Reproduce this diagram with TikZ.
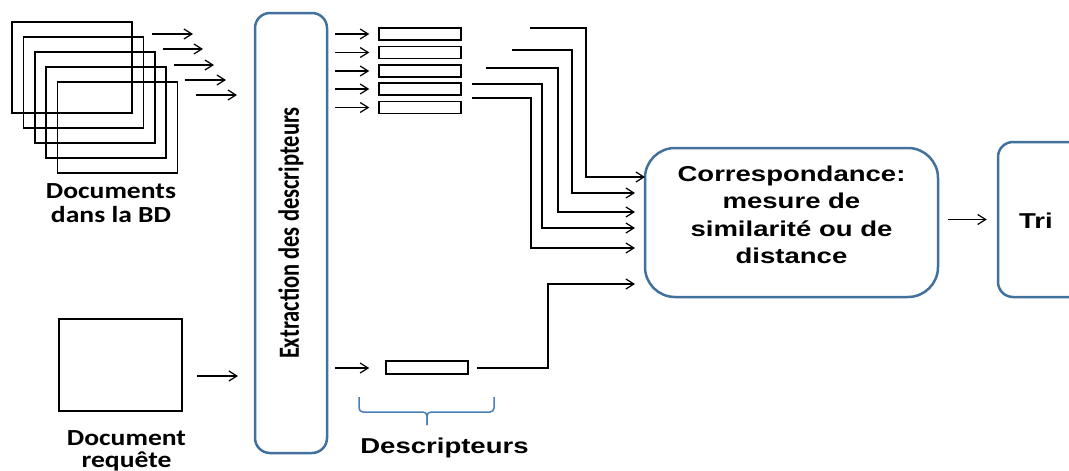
\documentclass[tikz,border=0pt]{standalone}
\usepackage{fontspec}
\usepackage{graphicx}
\newfontfamily\calfont{Carlito}
\newfontfamily\arifont{Liberation Sans}
\usetikzlibrary{arrows.meta}
\definecolor{boxblue}{HTML}{41719C}
\definecolor{braceblue}{HTML}{4A7EBB}
\newcommand{\cx}[1]{\scalebox{1.2}[1]{#1}}
\newcommand{\ax}[1]{\scalebox{1.28}[1]{#1}}
\begin{document}
\begin{tikzpicture}[x=1pt,y=-1pt,
  arr/.style={line width=1.2pt,-{Straight Barb[length=8pt,width=10pt]}},
  doc/.style={draw,line width=1.7pt,minimum width=120pt,minimum height=91pt,inner sep=0pt},
  desc/.style={draw,line width=1.5pt,minimum width=82pt,minimum height=12pt,inner sep=0pt},
  bluebox/.style={draw=boxblue,line width=2.5pt,inner sep=0pt},
  caltext/.style={font=\calfont\bfseries\fontsize{23}{22.5}\selectfont,inner sep=0pt},
  aritext/.style={font=\arifont\bfseries\fontsize{21.5}{27.5}\selectfont,inner sep=0pt},
  bracestyle/.style={draw=braceblue,line width=1.5pt,rounded corners=4pt}]
\useasboundingbox (0,0) rectangle (1069,471);
\clip (0,0) rectangle (1069,471);
\fill[white] (0,0) rectangle (1069,471);
% stack of documents
\foreach \i in {0,...,4}
  \node[doc] (d\i) at ({72+11.4*\i},{67.5+15*\i}) {};
\foreach \i/\xa/\xb/\yy in {1/152/193/34,2/163/203/49,3/174/214/65,4/185/226/80,5/196/237/95}{
  \coordinate (sa\i) at (\xa,\yy);
  \coordinate (sb\i) at (\xb,\yy);
  \draw[arr] (sa\i) -- (sb\i);
}
\node[caltext,anchor=base,font=\calfont\bfseries\fontsize{23}{24}\selectfont] (doclabel) at (111,198)
  {\cx{\begin{tabular}[t]{@{}c@{}}Documents\\dans la BD\end{tabular}}};
% query document
\node[doc,minimum width=123pt,minimum height=92pt] (q) at (120.5,365) {};
\node[caltext,anchor=base] (qlabel) at (126.5,445)
  {\cx{\begin{tabular}[t]{@{}c@{}}Document\\requête\end{tabular}}};
\coordinate (qa) at (197,376);
\coordinate (qb) at (238,376);
\draw[arr] (qa) -- (qb);
% extraction
\node[bluebox,rounded corners=15pt,minimum width=72pt,minimum height=440pt,
  font=\calfont\bfseries\fontsize{22.5}{24}\selectfont] (ext) at (291,233)
  {\scalebox{1.3}[1]{\rotatebox{90}{Extraction des descripteurs}}};
% descriptor boxes
\foreach \i/\yy in {1/34,2/52.5,3/71,4/89,5/107.5}{
  \node[desc] (b\i) at (420,\yy) {};
  \coordinate (ba\i) at (335,\yy);
  \draw[arr] (ba\i) -- ([xshift=-9pt]b\i.west);
}
\node[desc,minimum height=13pt] (qd) at (427,367.5) {};
\coordinate (qda) at (335,368);
\draw[arr] (qda) -- ([xshift=-16pt]qd.west |- qda);
% correspondance
\node[bluebox,rounded corners=30pt,minimum width=293pt,minimum height=149pt] (corr) at (791.5,222.5) {};
\node[aritext,anchor=base] (corrtext) at (791.5,181)
  {\ax{\begin{tabular}[t]{@{}c@{}}Correspondance:\\mesure de\\similarité ou de\\distance\end{tabular}}};
% connectors
\coordinate (c1) at (530,28);  \coordinate (e1) at (645,177);
\coordinate (c2) at (512,50);  \coordinate (e2) at (635,193);
\coordinate (c3) at (486,68);  \coordinate (e3) at (635,212);
\coordinate (c4) at (472,84);  \coordinate (e4) at (635,228);
\coordinate (c5) at (472,98);  \coordinate (e5) at (635,248);
\coordinate (c6) at (477,368); \coordinate (e6) at (635,284);
\draw[arr] (c1) -| (586,177) -- (e1);
\draw[arr] (c2) -| (572,193) -- (e2);
\draw[arr] (c3) -| (558,212) -- (e3);
\draw[arr] (c4) -| (542,228) -- (e4);
\draw[arr] (c5) -| (531,248) -- (e5);
\draw[arr] (c6) -| (548,284) -- (e6);
% tri
\node[bluebox,rounded corners=15pt,minimum width=140pt,minimum height=155pt] (tri) at (1068,219.5) {};
\node[aritext] (tritext) at (1036,221) {\ax{Tri}};
\draw[arr] ([xshift=9pt]corr.east |- tri.west) -- ([xshift=-10pt]tri.west);
% brace
\draw[bracestyle] (359,397) -- (359,412) -- (427,412) -- (427,425);
\draw[bracestyle] (494,397) -- (494,412) -- (427,412) -- (427,425);
\node[aritext,anchor=base] (desclabel) at (444.5,453) {\ax{Descripteurs}};
\end{tikzpicture}
\end{document}
